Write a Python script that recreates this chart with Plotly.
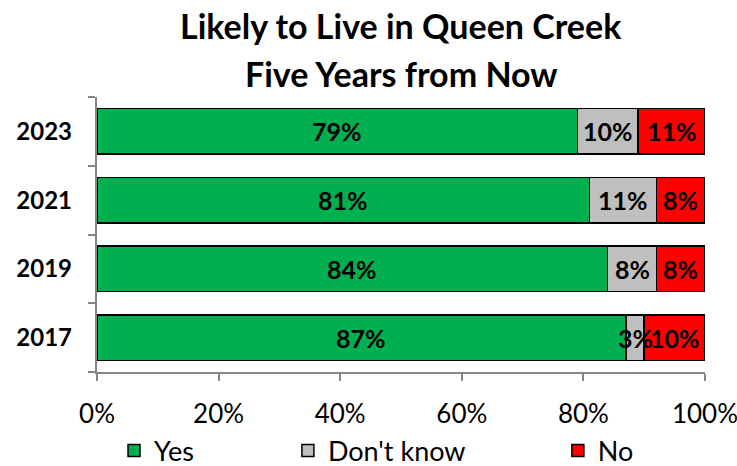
import plotly.graph_objects as go

# Survey results by year (percent of respondents)
years = ["2017", "2019", "2021", "2023"]
yes_pct = [87, 84, 81, 79]
dont_know_pct = [3, 8, 11, 10]
no_pct = [10, 8, 8, 11]

series_names = ["Yes", "Don't know", "No"]
series_values = [yes_pct, dont_know_pct, no_pct]
series_colors = ["#00B050", "#BFBFBF", "#FF0000"]
legend_ids = ["legend", "legend2", "legend3"]
legend_x = [0.028, 0.314, 0.758]

FONT = "Lato"
AXIS_GREY = "#868686"

# one row per year, bottom to top
row_pos = list(range(len(years)))

fig = go.Figure()
for name, vals, color, lg in zip(series_names, series_values, series_colors, legend_ids):
    fig.add_trace(go.Bar(
        y=row_pos, x=vals, name=name, orientation="h",
        marker=dict(color=color, line=dict(color="black", width=1.5)),
        legend=lg, showlegend=True,
    ))

# Value labels centred in each segment
annotations = []
for yi in row_pos:
    start = 0
    for vals in series_values:
        v = vals[yi]
        annotations.append(dict(
            x=start + v / 2, y=yi, xref="x", yref="y",
            text=f"<b>{v}%</b>", showarrow=False,
            font=dict(family=FONT, size=25, color="black"),
            xanchor="center", yanchor="middle",
        ))
        start += v

# Two-line chart title
title_lines = ["Likely to Live in Queen Creek", "Five Years from Now"]
title_y_px = [25, 74]
for line, ypx in zip(title_lines, title_y_px):
    annotations.append(dict(
        text=f"<b>{line}</b>", showarrow=False,
        x=0.5, xref="paper", xanchor="center",
        y=1 + (97 - ypx) / 275, yref="paper", yanchor="middle",
        font=dict(family=FONT, size=34, color="black"),
    ))

fig.update_layout(
    width=737, height=466,
    margin=dict(l=97, r=32, t=97, b=94, autoexpand=False),
    paper_bgcolor="white", plot_bgcolor="white",
    barmode="stack", bargap=0.34,
    showlegend=True,
    font=dict(family=FONT, color="black"),
    xaxis=dict(
        range=[0, 100], tickvals=[0, 20, 40, 60, 80, 100],
        ticktext=["0%", "20%", "40%", "60%", "80%", "100%"],
        showgrid=False, zeroline=False,
        showline=True, linecolor=AXIS_GREY, linewidth=1.5,
        ticks="outside", ticklen=7, tickcolor=AXIS_GREY, tickwidth=1.5,
        ticklabelstandoff=11, ticklabeloverflow="allow",
        tickfont=dict(family=FONT, size=26, color="black"),
    ),
    yaxis=dict(
        range=[-0.5, len(years) - 0.5],
        tickvals=row_pos, ticktext=[f"<b>{y}</b>   " for y in years],
        ticks="",
        minor=dict(
            tickvals=[p - 0.5 for p in row_pos] + [row_pos[-1] + 0.5],
            ticks="outside", ticklen=7, tickcolor=AXIS_GREY, tickwidth=1.5,
            showgrid=False,
        ),
        showgrid=False, zeroline=False,
        showline=True, linecolor=AXIS_GREY, linewidth=1.5,
        tickfont=dict(family=FONT, size=24, color="black"),
    ),
    annotations=annotations,
)

# One legend per series so each entry sits at its own spot
for lg, lx in zip(legend_ids, legend_x):
    fig.update_layout({lg: dict(
        orientation="h", x=lx, xanchor="left", y=-79 / 275, yanchor="middle",
        font=dict(family=FONT, size=27, color="black"),
        bgcolor="rgba(0,0,0,0)", borderwidth=0, visible=True,
    )})

fig.write_html("out.html")
